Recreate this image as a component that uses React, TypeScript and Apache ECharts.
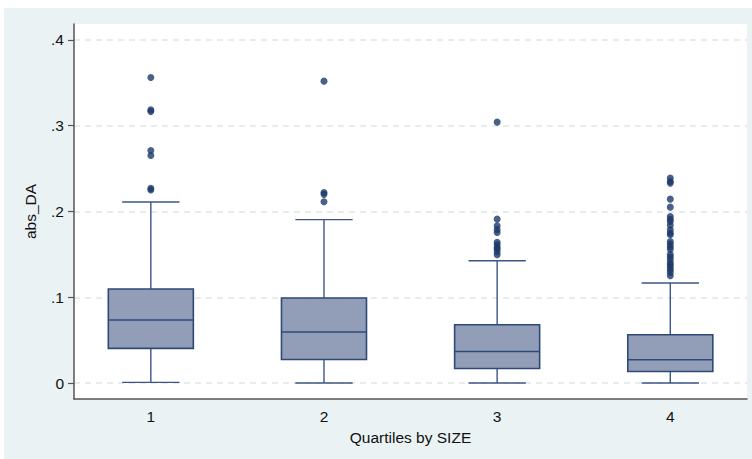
import React, { useEffect, useRef } from "react";
import * as echarts from "echarts";

// ---- data ----
const categories = ["1", "2", "3", "4"];
const groupPositions = [1, 2, 3, 4];
const whiskerLow = [0.0007, 0.0, 0.0, 0.0];
const quartile1 = [0.0404, 0.0275, 0.017, 0.0135];
const medians = [0.0734, 0.0594, 0.0368, 0.0272];
const quartile3 = [0.1096, 0.0991, 0.0679, 0.0563];
const whiskerHigh = [0.211, 0.1905, 0.1425, 0.1166];

const outliers1 = [0.3562, 0.3185, 0.3165, 0.2711, 0.2653, 0.227, 0.225];
const outliers2 = [0.352, 0.2222, 0.22, 0.2113];
const outliers3 = [0.3042, 0.1911, 0.1833, 0.179, 0.1755, 0.164, 0.1612, 0.158, 0.1562, 0.153, 0.1495];
const outliers4 = [
  0.2389, 0.235, 0.2331, 0.2144, 0.2051, 0.1942, 0.191, 0.1884, 0.184, 0.1787, 0.175, 0.1728,
  0.165, 0.162, 0.159, 0.156, 0.15, 0.147, 0.1437, 0.14, 0.1379, 0.135, 0.132, 0.129, 0.125,
];
const outlierGroups = [outliers1, outliers2, outliers3, outliers4];

const yTicks = [0, 0.1, 0.2, 0.3, 0.4];
const yTickLabels = ["0", ".1", ".2", ".3", ".4"];

const xAxisTitle = "Quartiles by SIZE";
const yAxisTitle = "abs_DA";

// ---- styles ----
const FONT = "'Liberation Sans', Arial, sans-serif";
const PANEL_BG = "#eaf2f3";
const BOX_FILL = "#929eb7";
const BOX_STROKE = "#2e4878";
const WHISKER_STROKE = "#3c5585";
const DOT_COLOR = "#1d386a";
const BOX_WIDTH = 0.491;
const CAP_WIDTH = 0.331;

export default function App() {
  const ref = useRef<HTMLDivElement>(null);

  useEffect(() => {
    if (!ref.current) return;
    const chart = echarts.init(ref.current, undefined, { renderer: "svg" });

    const boxData = groupPositions.map((p, i) => [
      p,
      whiskerLow[i],
      quartile1[i],
      medians[i],
      quartile3[i],
      whiskerHigh[i],
    ]);
    const dotData: number[][] = [];
    outlierGroups.forEach((g, i) => g.forEach((v) => dotData.push([groupPositions[i], v])));

    const option: any = {
      animation: false,
      graphic: [
        {
          type: "rect",
          z: -10,
          silent: true,
          shape: { x: 4, y: 8, width: 748, height: 451 },
          style: { fill: PANEL_BG },
        },
      ],
      grid: {
        left: 74,
        right: 5,
        top: 24,
        bottom: 60,
        show: true,
        backgroundColor: "#ffffff",
        borderWidth: 0,
      },
      xAxis: {
        type: "value",
        min: 0.5563,
        max: 4.443,
        name: xAxisTitle,
        nameLocation: "middle",
        nameGap: 30,
        nameTextStyle: { fontFamily: FONT, fontSize: 15.5, color: "#111" },
        axisLine: { show: true, onZero: false, lineStyle: { color: "#555", width: 1.5 } },
        axisTick: { show: false },
        splitLine: { show: false },
        axisLabel: {
          customValues: groupPositions,
          formatter: (v: number) => categories[Math.round(v) - 1] ?? "",
          fontFamily: FONT,
          fontSize: 15.5,
          color: "#111",
          margin: 9,
        },
      },
      yAxis: {
        type: "value",
        min: -0.01864,
        max: 0.41864,
        name: yAxisTitle,
        nameLocation: "middle",
        nameGap: 36,
        nameRotate: 90,
        nameTextStyle: { fontFamily: FONT, fontSize: 15.5, color: "#111" },
        axisLine: { show: true, lineStyle: { color: "#555", width: 1.5 } },
        axisTick: {
          show: true,
          customValues: yTicks,
          length: 6,
          lineStyle: { color: "#555", width: 1.2 },
        },
        axisLabel: {
          customValues: yTicks,
          formatter: (v: number) => {
            const idx = yTicks.findIndex((t) => Math.abs(t - v) < 1e-6);
            return idx >= 0 ? yTickLabels[idx] : "";
          },
          fontFamily: FONT,
          fontSize: 15.5,
          color: "#111",
          margin: 10,
        },
        splitLine: {
          show: true,
          lineStyle: { color: "#e0e8ea", width: 1.5, type: [6, 5] },
        },
      },
      series: [
        {
          type: "custom",
          data: boxData,
          z: 2,
          renderItem: (_params: any, api: any) => {
            const x = api.value(0);
            const unit = api.size([1, 0])[0];
            const boxHalf = (unit * BOX_WIDTH) / 2;
            const capHalf = (unit * CAP_WIDTH) / 2;
            const pLo = api.coord([x, api.value(1)]);
            const pQ1 = api.coord([x, api.value(2)]);
            const pMed = api.coord([x, api.value(3)]);
            const pQ3 = api.coord([x, api.value(4)]);
            const pHi = api.coord([x, api.value(5)]);
            const cx = pLo[0];
            const wStyle = { stroke: WHISKER_STROKE, lineWidth: 1.4 };
            return {
              type: "group",
              children: [
                { type: "line", shape: { x1: cx, y1: pQ3[1], x2: cx, y2: pHi[1] }, style: wStyle },
                { type: "line", shape: { x1: cx, y1: pQ1[1], x2: cx, y2: pLo[1] }, style: wStyle },
                { type: "line", shape: { x1: cx - capHalf, y1: pHi[1], x2: cx + capHalf, y2: pHi[1] }, style: wStyle },
                { type: "line", shape: { x1: cx - capHalf, y1: pLo[1], x2: cx + capHalf, y2: pLo[1] }, style: wStyle },
                {
                  type: "rect",
                  shape: { x: cx - boxHalf, y: pQ3[1], width: boxHalf * 2, height: pQ1[1] - pQ3[1] },
                  style: { fill: BOX_FILL, stroke: BOX_STROKE, lineWidth: 1.6 },
                },
                {
                  type: "line",
                  shape: { x1: cx - boxHalf, y1: pMed[1], x2: cx + boxHalf, y2: pMed[1] },
                  style: { stroke: BOX_STROKE, lineWidth: 1.6 },
                },
              ],
            };
          },
        },
        {
          type: "scatter",
          data: dotData,
          z: 3,
          symbol: "circle",
          symbolSize: 7,
          itemStyle: { color: DOT_COLOR },
        },
      ],
    };

    chart.setOption(option);
    return () => chart.dispose();
  }, []);

  return (
    <div
      ref={ref}
      style={{ position: "fixed", left: 0, top: 0, width: 752, height: 459, background: "#ffffff" }}
    />
  );
}
